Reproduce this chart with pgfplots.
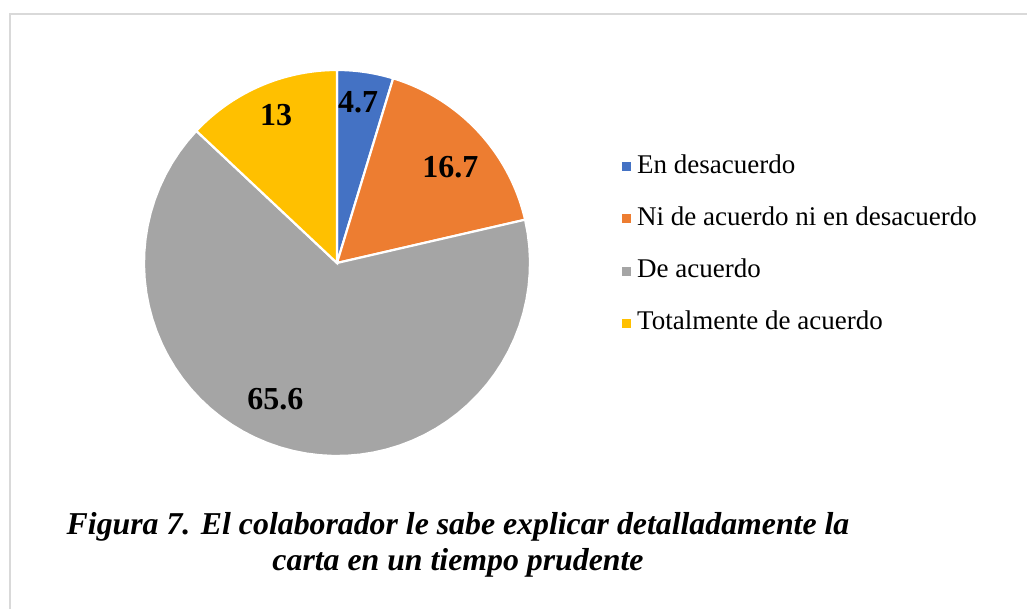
\documentclass[border=0pt]{standalone}
\usepackage{pgfplots}
\pgfplotsset{compat=1.18}
\usepackage{fontspec}
\setmainfont{Liberation Serif}
\definecolor{cA}{HTML}{4472C4}
\definecolor{cB}{HTML}{ED7D31}
\definecolor{cC}{HTML}{A5A5A5}
\definecolor{cD}{HTML}{FFC000}
\definecolor{frame}{HTML}{D9D9D9}
% percentages
\def\vA{4.7}
\def\vB{16.7}
\def\vC{65.6}
\def\vD{13}
\pgfmathsetmacro{\aA}{90}
\pgfmathsetmacro{\aB}{\aA-3.6*\vA}
\pgfmathsetmacro{\aC}{\aB-3.6*\vB}
\pgfmathsetmacro{\aD}{\aC-3.6*\vC}
\pgfmathsetmacro{\aE}{\aD-3.6*\vD}
\begin{document}
\begin{tikzpicture}
\useasboundingbox (0pt,0pt) rectangle (1027pt,609pt);
\draw[frame, line width=1.5pt] (10pt,0pt) -- (10pt,595pt) -- (1027pt,595pt);
\begin{axis}[
  at={(337pt,346pt)}, anchor=center,
  scale only axis, width=386pt, height=386pt,
  xmin=-1, xmax=1, ymin=-1, ymax=1,
  hide axis, clip=false,
  legend style={at={(axis cs:1.4767,0.093)}, anchor=west, draw=none, fill=none,
    inner sep=0pt, row sep=27.3pt,
    font=\fontsize{27}{27}\selectfont,
    nodes={inner sep=0pt, text height=19pt, text depth=6pt}},
  legend cell align=left,
  legend image code/.code={\fill[#1, draw=none] (0pt,-4.5pt) rectangle (9pt,4.5pt);},
  every axis plot/.append style={draw=white, line width=2.2pt, samples=60},
]
\addplot[fill=cA, domain=\aB:\aA] ({cos(x)},{sin(x)}) -- (axis cs:0,0) -- cycle;
\addlegendentry{\hspace{6pt}En desacuerdo}
\addplot[fill=cB, domain=\aC:\aB] ({cos(x)},{sin(x)}) -- (axis cs:0,0) -- cycle;
\addlegendentry{\hspace{6pt}Ni de acuerdo ni en desacuerdo}
\addplot[fill=cC, domain=\aD:\aC] ({cos(x)},{sin(x)}) -- (axis cs:0,0) -- cycle;
\addlegendentry{\hspace{6pt}De acuerdo}
\addplot[fill=cD, domain=\aE:\aD] ({cos(x)},{sin(x)}) -- (axis cs:0,0) -- cycle;
\addlegendentry{\hspace{6pt}Totalmente de acuerdo}
\begin{scope}[every node/.style={font=\bfseries\fontsize{32}{32}\selectfont}]
\node at (axis cs:0.109,0.832) {\vA};
\node at (axis cs:0.588,0.495) {\vB};
\node at (axis cs:-0.319,-0.707) {\vC};
\node at (axis cs:-0.316,0.764) {\vD};
\end{scope}
\end{axis}
\node[font=\bfseries\itshape\fontsize{31.8}{36}\selectfont, align=center] at (458pt,64pt)
  {Figura 7. El colaborador le sabe explicar detalladamente la\\carta en un tiempo prudente};
\end{tikzpicture}
\end{document}
